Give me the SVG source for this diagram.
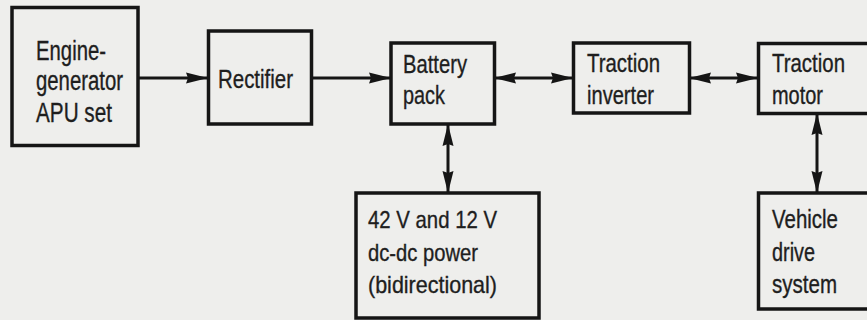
<svg xmlns="http://www.w3.org/2000/svg" width="867" height="320" viewBox="0 0 867 320">
<style>
.bg{fill:#eeeeec}
.box{fill:none;stroke:#151515;stroke-width:3.5}
.t{font-family:"Liberation Sans",Arial,sans-serif;font-size:25px;fill:#1e1e1e;stroke:#1e1e1e;stroke-width:0.35}
.ln{stroke:#151515;stroke-width:3;fill:none}
</style>
<defs>
<marker id="ah" viewBox="0 0 22 12" refX="22" refY="6" markerWidth="22" markerHeight="12" markerUnits="userSpaceOnUse" orient="auto-start-reverse">
<path d="M0,0.5 L22,6 L0,11.5 L2,6 Z" fill="#151515"/>
</marker>
</defs>
<rect class="bg" x="0" y="0" width="867" height="320"/>
<g id="connectors">
<line class="ln" x1="138" y1="78" x2="208" y2="78" marker-end="url(#ah)"/>
<line class="ln" x1="312" y1="78" x2="391" y2="78" marker-end="url(#ah)"/>
<line class="ln" x1="494" y1="78" x2="573" y2="78" marker-start="url(#ah)" marker-end="url(#ah)"/>
<line class="ln" x1="689" y1="78" x2="758" y2="78" marker-start="url(#ah)" marker-end="url(#ah)"/>
<line class="ln" x1="448" y1="124" x2="448" y2="193" marker-start="url(#ah)" marker-end="url(#ah)"/>
<line class="ln" x1="817" y1="113" x2="817" y2="193" marker-start="url(#ah)" marker-end="url(#ah)"/>
</g>
<g id="engine">
<rect class="box" x="12" y="7.5" width="126" height="138"/>
<text class="t" style="font-size:27px" x="36" y="60" textLength="70" lengthAdjust="spacingAndGlyphs">Engine-</text>
<text class="t" style="font-size:27px" x="36" y="90" textLength="87" lengthAdjust="spacingAndGlyphs">generator</text>
<text class="t" style="font-size:27px" x="36" y="121.5" textLength="76" lengthAdjust="spacingAndGlyphs">APU set</text>
</g>
<g id="rectifier">
<rect class="box" x="208.5" y="31" width="103" height="93"/>
<text class="t" style="font-size:26px" x="218" y="87.5" textLength="75" lengthAdjust="spacingAndGlyphs">Rectifier</text>
</g>
<g id="battery">
<rect class="box" x="391" y="43" width="103.5" height="81"/>
<text class="t" x="403" y="72.5" textLength="64" lengthAdjust="spacingAndGlyphs">Battery</text>
<text class="t" x="403" y="104" textLength="42" lengthAdjust="spacingAndGlyphs">pack</text>
</g>
<g id="inverter">
<rect class="box" x="573.5" y="43" width="116" height="70"/>
<text class="t" x="587" y="72" textLength="73" lengthAdjust="spacingAndGlyphs">Traction</text>
<text class="t" x="587" y="104" textLength="67" lengthAdjust="spacingAndGlyphs">inverter</text>
</g>
<g id="motor">
<rect class="box" x="758.5" y="43.5" width="130" height="70"/>
<text class="t" x="772" y="72" textLength="73" lengthAdjust="spacingAndGlyphs">Traction</text>
<text class="t" x="772" y="104" textLength="51" lengthAdjust="spacingAndGlyphs">motor</text>
</g>
<g id="dcdc">
<rect class="box" x="356" y="193" width="183" height="125"/>
<text class="t" style="font-size:24px" x="368" y="228" textLength="129" lengthAdjust="spacingAndGlyphs">42 V and 12 V</text>
<text class="t" style="font-size:24px" x="368" y="261" textLength="110" lengthAdjust="spacingAndGlyphs">dc-dc power</text>
<text class="t" style="font-size:24px" x="368" y="293" textLength="129" lengthAdjust="spacingAndGlyphs">(bidirectional)</text>
</g>
<g id="vehicle">
<rect class="box" x="758.5" y="193" width="130" height="116"/>
<text class="t" x="772" y="228" textLength="66" lengthAdjust="spacingAndGlyphs">Vehicle</text>
<text class="t" x="772" y="261" textLength="43" lengthAdjust="spacingAndGlyphs">drive</text>
<text class="t" x="772" y="293" textLength="65" lengthAdjust="spacingAndGlyphs">system</text>
</g>
</svg>
